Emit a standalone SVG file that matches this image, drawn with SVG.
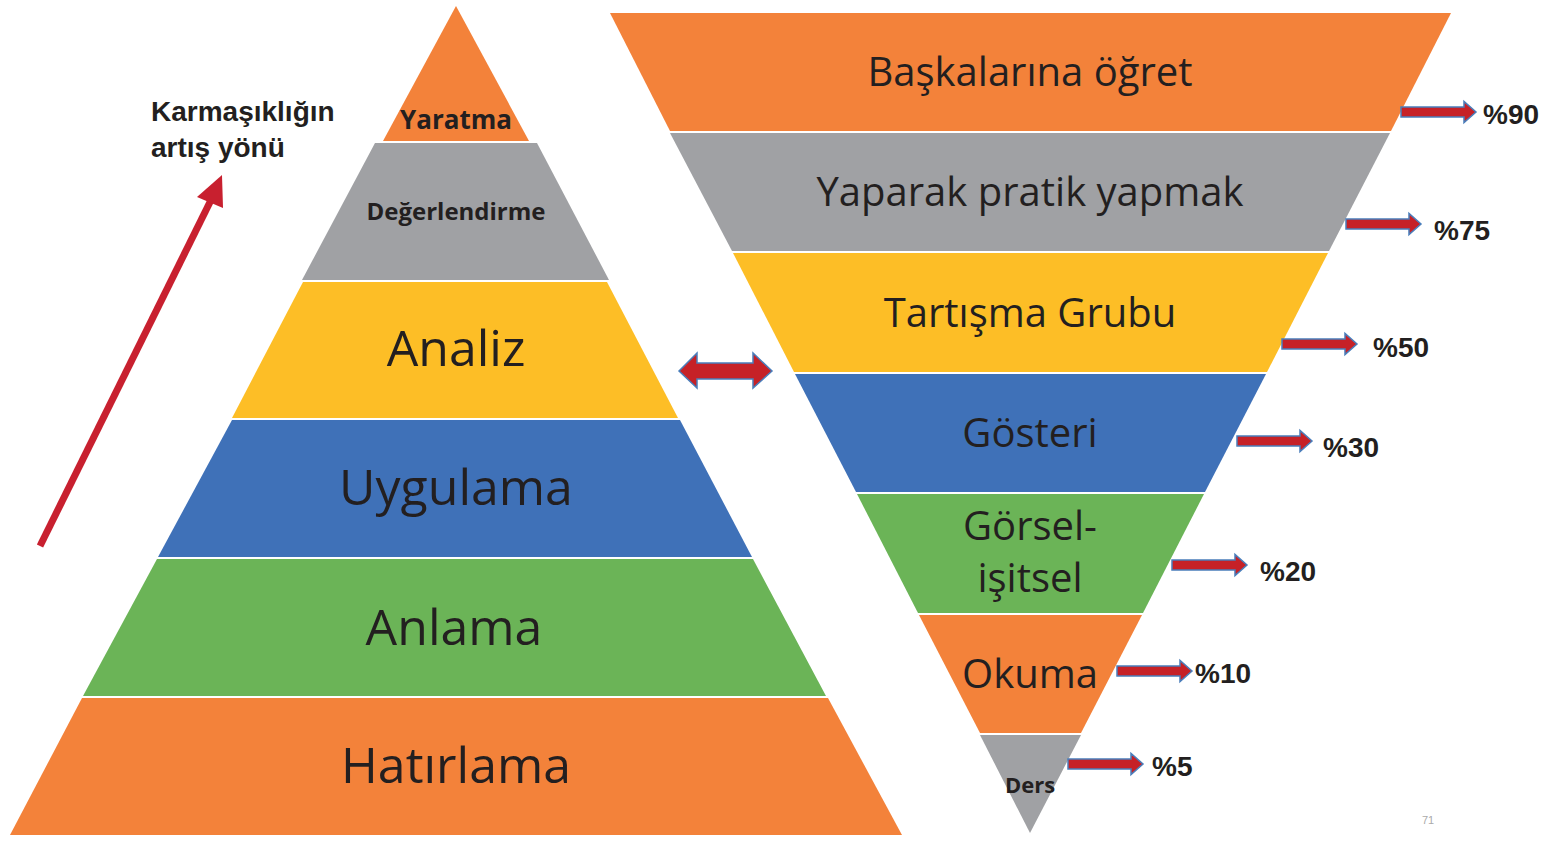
<svg xmlns="http://www.w3.org/2000/svg" xmlns:xlink="http://www.w3.org/1999/xlink" width="1554" height="843" viewBox="0 0 1554 843">
<style>
.or{fill:#F3823A}.gr{fill:#A0A1A4}.ye{fill:#FDBE26}.bl{fill:#3F71B8}.gn{fill:#6BB457}
.lbl{font-family:"Open Sans","Liberation Sans",sans-serif;fill:#231F20;text-anchor:middle}
.big{font-size:50px}.mid{font-size:40px}
.bold{font-weight:bold}
.pct{font-family:"Liberation Sans",Arial,sans-serif;font-weight:bold;font-size:28px;fill:#231F20}
.arr{fill:#C62127;stroke:#4A7EBB;stroke-width:1.5}
</style>
<defs>
<path id="ra" d="M0,-5 H63 V-10.5 L75,0 L63,10.5 V5 H0 Z"/>
</defs>
<rect width="1554" height="843" fill="#FFFFFF"/>

<g id="pyramid-left">
<g id="yaratma"><polygon class="or" points="456,6 529,141 383,141"/><text class="lbl bold" x="456" y="129" font-size="26">Yaratma</text></g>
<g id="degerlendirme"><polygon class="gr" points="375,143 537,143 609,280 302,280"/><text class="lbl bold" x="456" y="220" font-size="24">Değerlendirme</text></g>
<g id="analiz"><polygon class="ye" points="303,282 607,282 678,418 232,418"/><text class="lbl big" x="456" y="366">Analiz</text></g>
<g id="uygulama"><polygon class="bl" points="232,420 680,420 752,557 158,557"/><text class="lbl big" x="456" y="505">Uygulama</text></g>
<g id="anlama"><polygon class="gn" points="157,559 753,559 826,696 83,696"/><text class="lbl big" x="454" y="645">Anlama</text></g>
<g id="hatirlama"><polygon class="or" points="82,698 828,698 902,835 10,835"/><text class="lbl big" x="456" y="783">Hatırlama</text></g>
</g>

<g id="pyramid-right">
<g id="baskalarina"><polygon class="or" points="610,13 1451,13 1391,131 670,131"/><text class="lbl mid" x="1030" y="86">Başkalarına öğret</text></g>
<g id="yaparak"><polygon class="gr" points="670,133 1390,133 1329,251 732,251"/><text class="lbl mid" x="1030" y="206">Yaparak pratik yapmak</text></g>
<g id="tartisma"><polygon class="ye" points="733,253 1328,253 1267,372 794,372"/><text class="lbl mid" x="1030" y="327">Tartışma Grubu</text></g>
<g id="gosteri"><polygon class="bl" points="795,374 1266,374 1205,492 856,492"/><text class="lbl mid" x="1030" y="447">Gösteri</text></g>
<g id="gorsel"><polygon class="gn" points="857,494 1204,494 1143,613 918,613"/><text class="lbl mid" x="1030" y="540">Görsel-</text><text class="lbl mid" x="1030" y="592">işitsel</text></g>
<g id="okuma"><polygon class="or" points="919,615 1142,615 1081,733 980,733"/><text class="lbl mid" x="1030" y="688">Okuma</text></g>
<g id="ders"><polygon class="gr" points="980,735 1081,735 1030,833"/><text class="lbl bold" x="1030" y="793" font-size="22">Ders</text></g>
</g>

<g id="complexity-label">
<text font-family="'Liberation Sans',Arial,sans-serif" font-weight="bold" font-size="28" fill="#231F20"><tspan x="151" y="121">Karmaşıklığın</tspan><tspan x="151" y="157">artış yönü</tspan></text>
</g>

<g id="connectors">
<line x1="40" y1="546" x2="212" y2="198" stroke="#C8202F" stroke-width="7"/>
<polygon points="222,175 223,208 197,197" fill="#C8202F"/>
<path class="arr" d="M679,371 L697,353 V363 H753 V353 L772,371 L753,388 V379 H697 V388 Z"/>
<use xlink:href="#ra" class="arr" transform="translate(1401,112)"/>
<use xlink:href="#ra" class="arr" transform="translate(1346,224)"/>
<use xlink:href="#ra" class="arr" transform="translate(1282,344)"/>
<use xlink:href="#ra" class="arr" transform="translate(1237,441)"/>
<use xlink:href="#ra" class="arr" transform="translate(1172,565)"/>
<use xlink:href="#ra" class="arr" transform="translate(1117,671)"/>
<use xlink:href="#ra" class="arr" transform="translate(1068,764)"/>
</g>

<g id="percent-labels">
<text class="pct" x="1483" y="124">%90</text>
<text class="pct" x="1434" y="240">%75</text>
<text class="pct" x="1373" y="357">%50</text>
<text class="pct" x="1323" y="457">%30</text>
<text class="pct" x="1260" y="581">%20</text>
<text class="pct" x="1195" y="683">%10</text>
<text class="pct" x="1152" y="776">%5</text>
</g>

<text x="1422" y="824" font-family="'Liberation Sans',Arial,sans-serif" font-size="11" fill="#AAAAAA">71</text>
</svg>
